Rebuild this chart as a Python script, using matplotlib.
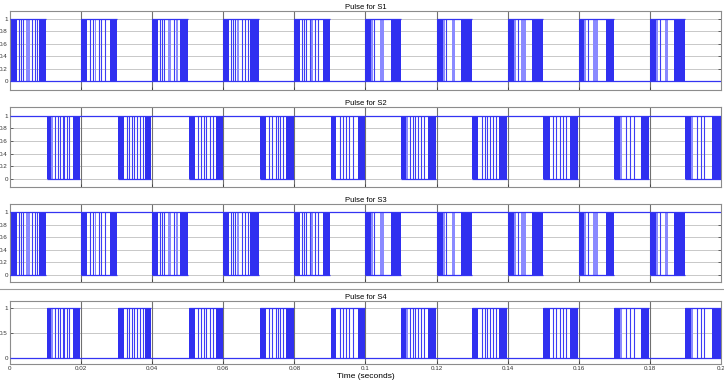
import matplotlib
matplotlib.use("Agg")
import matplotlib.pyplot as plt
from matplotlib.lines import Line2D

plt.rcParams['font.family'] = ['Liberation Sans', 'DejaVu Sans']

# switching patterns, times in ms
# dense = solid-looking switching blocks, bands = medium shaded, lines = single edges
s1_dense = [(0.0, 1.9), (8.2, 10.0),
            (20.0, 21.7), (28.1, 30.0),
            (40.0, 41.6), (47.8, 50.0),
            (60.0, 61.6), (67.6, 70.0),
            (80.0, 81.5), (88.0, 90.0),
            (100.0, 101.5), (107.1, 110.0),
            (120.0, 121.8), (127.0, 130.0),
            (140.0, 141.8), (146.8, 150.0),
            (160.0, 161.4), (167.7, 170.0),
            (180.0, 181.8), (186.9, 190.0)]
s1_bands = [(4.6, 5.6), (23.8, 24.3), (44.5, 45.4), (46.8, 47.3), (63.9, 64.4),
            (84.8, 85.2), (101.5, 102.0), (104.0, 105.2), (121.8, 122.3), (124.2, 125.3),
            (141.8, 142.4), (143.8, 145.2), (161.4, 161.9), (164.0, 165.4),
            (181.8, 182.3), (184.2, 185.0)]
s1_lines = [2.5, 3.1, 3.6, 6.3, 6.9, 7.5,
            22.5, 23.4, 25.0, 25.7, 26.7,
            42.1, 42.8, 43.4, 46.0,
            62.2, 62.7, 63.3, 65.2, 66.1, 66.9,
            82.2, 82.8, 83.3, 84.3, 85.9, 86.7,
            102.4, 122.7, 142.9, 162.5, 182.8]

s2_dense = [(10.3, 12.0), (17.8, 19.8),
            (30.4, 32.0), (37.9, 39.8),
            (50.3, 52.0), (57.9, 59.8),
            (70.2, 72.1), (77.7, 79.8),
            (90.2, 91.8), (97.8, 99.8),
            (110.1, 111.5), (117.6, 119.8),
            (130.1, 131.7), (137.7, 139.8),
            (150.0, 151.8), (157.4, 159.8),
            (170.0, 171.7), (177.5, 179.8),
            (190.0, 191.6), (197.4, 200.0)]
s2_bands = [(11.5, 12.1), (111.5, 112.0), (171.7, 172.3), (191.6, 192.1)]
s2_lines = [12.8, 13.5, 14.0, 14.8, 15.3, 15.9, 16.6,
            32.8, 33.5, 34.2, 34.9, 35.6, 36.5, 37.3,
            52.9, 53.8, 54.5, 55.2, 56.2, 57.1,
            72.8, 73.8, 74.7, 75.4, 76.0, 76.8,
            92.7, 93.6, 94.6, 95.5, 96.4,
            112.5, 113.4, 114.0, 114.8, 115.5, 116.5,
            132.8, 133.5, 134.3, 135.0, 135.8, 136.7,
            152.7, 153.6, 154.6, 155.5, 156.4,
            173.3, 174.5, 175.5,
            193.4, 194.4, 195.3]

titles = ['Pulse for S1', 'Pulse for S2', 'Pulse for S3', 'Pulse for S4']
idle_levels = [0, 1, 1, 0]          # level held between switching blocks
patterns = [(s1_dense, s1_bands, s1_lines), (s2_dense, s2_bands, s2_lines),
            (s1_dense, s1_bands, s1_lines), (s2_dense, s2_bands, s2_lines)]
yticks_list = [[0, 0.2, 0.4, 0.6, 0.8, 1]] * 3 + [[0, 0.5, 1]]
ytick_labels = [['0', '0.2', '0.4', '0.6', '0.8', '1']] * 3 + [['0', '0.5', '1']]
xticks = [0, 0.02, 0.04, 0.06, 0.08, 0.1, 0.12, 0.14, 0.16, 0.18, 0.2]
xtick_labels = ['0', '0.02', '0.04', '0.06', '0.08', '0.1', '0.12', '0.14', '0.16', '0.18', '0.2']

# axes boxes [left, bottom, width, height] and y limits
boxes = [[0.0138, 0.7658, 0.982, 0.2063],
         [0.0138, 0.5117, 0.982, 0.2090],
         [0.0138, 0.2630, 0.982, 0.2044],
         [0.0138, 0.0488, 0.982, 0.1660]]
ylims = [(-0.135, 1.133), (-0.13, 1.14), (-0.12, 1.13), (-0.12, 1.15)]

BLUE = '#3434f2'
fig = plt.figure(figsize=(7.24, 3.83), dpi=100)

for i in range(4):
    ax = fig.add_axes(boxes[i])
    dense, bands, lines = patterns[i]
    idle = idle_levels[i]
    active = 1 - idle

    ax.set_xlim(0, 0.2)
    ax.set_ylim(*ylims[i])
    ax.set_yticks(yticks_list[i])
    ax.set_yticklabels(ytick_labels[i])
    ax.set_xticks(xticks)
    if i == 3:
        ax.set_xticklabels(xtick_labels)
        ax.set_xlabel('Time (seconds)', fontsize=6, labelpad=1)
    else:
        ax.set_xticklabels([])

    # grid: light horizontals, dark verticals (scope style)
    for yv in yticks_list[i]:
        ax.axhline(yv, color='#c8c8c8', lw=0.7, zorder=0)
    for xv in xticks[1:-1]:
        ax.axvline(xv, color='#707070', lw=0.8, zorder=0)

    # idle level across whole trace
    ax.hlines(idle, 0, 0.2, color=BLUE, lw=0.9, zorder=3)
    # active level inside each switching block
    starts = [d[0] / 1000 for d in dense[0::2]]
    ends = [d[1] / 1000 for d in dense[1::2]]
    ax.hlines([active] * len(starts), starts, ends, color=BLUE, lw=0.9, zorder=3)

    for a, b in dense:
        ax.fill_between([a / 1000, b / 1000], 0, 1, color='#3030f0', lw=0, zorder=2)
    for a, b in bands:
        ax.fill_between([a / 1000, b / 1000], 0, 1, color='#8a8aff', lw=0, zorder=2)
    ax.vlines([t / 1000 for t in lines], 0, 1, color='#3c3cf5', lw=0.8, zorder=2)

    ax.set_title(titles[i], fontsize=5.5, pad=1.5)
    ax.tick_params(axis='both', labelsize=4.5, length=2, width=0.5,
                   direction='in', right=True, pad=1.5, colors='#333333')
    for sp in ax.spines.values():
        sp.set_color('#8c8c8c')
        sp.set_linewidth(0.8)

# separator line above the last panel
fig.add_artist(Line2D([0, 1], [1 - 289 / 383, 1 - 289 / 383], color='#9a9a9a', lw=0.8))

fig.savefig('out.png', dpi=100)
